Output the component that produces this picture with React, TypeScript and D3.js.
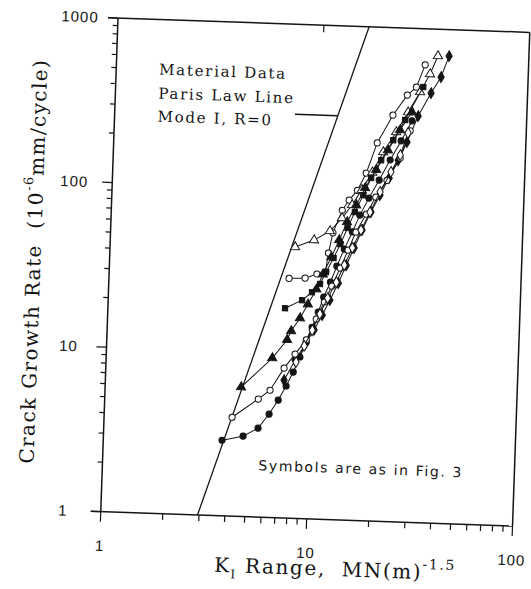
import React from 'react';
import * as d3 from 'd3';

// ---- axis definitions ----
const xDomain = [1, 100];
const yDomain = [1, 1000];
const xTickLabels = ['1', '10', '100'];
const xTickValues = [1, 10, 100];
const yTickLabels = ['1', '10', '100', '1000'];
const yTickValues = [1, 10, 100, 1000];

// ---- Paris law line: rate = (K / parisK0) ^ parisM ----
const parisK0 = 2.95;
const parisM = 4;
const parisRates = [1, 1000];
const leaderStartK = 7.5;
const leaderRate = 284;

// ---- data series (K range, crack growth rate) ----
const oc1K = [7.48, 8.95, 10.2, 11.2, 11.5, 12.0, 13.2, 14.2, 15.5, 17.0, 19.0, 22.4, 26.1, 28.8, 31.5];
const oc1R = [28.6, 28.9, 30.8, 31.8, 41.5, 55.1, 76, 87.9, 101, 129, 198, 294, 392, 440, 603];

const otK = [7.91, 9.75, 11.6, 13.2, 14.7, 16.3, 18.2, 20.4, 23.4, 26.5, 30.1, 33.4, 36.2];
const otR = [44.4, 49.4, 56.5, 68.1, 82.2, 102, 131, 175, 233, 309, 412, 532, 687];

const fsK = [7.24, 8.73, 9.72, 10.6, 11.3, 12.2, 13.1, 14.1, 15.2, 16.6, 18.0, 20.0, 22.7, 25.7, 31.1];
const fsR = [18.8, 21.2, 23.8, 26.8, 31.8, 38.8, 47.3, 59.4, 74.5, 94.8, 121, 156, 207, 277, 442];

const ftK = [4.57, 6.40, 7.50, 7.82, 8.59, 9.33, 10.2, 10.9, 11.9, 12.9, 14.0, 15.4, 16.9, 19.0, 21.5, 24.4, 27.7];
const ftR = [6.11, 9.31, 12.1, 13.7, 16.5, 20.1, 24.9, 30.8, 39.3, 50.0, 64.6, 82.2, 105, 136, 180, 240, 310];

const fcK = [3.77, 4.76, 5.61, 6.31, 6.95, 7.55, 8.13, 8.71, 9.29, 9.86, 10.5, 11.1, 11.9, 12.7, 13.7, 14.9, 16.1, 17.7, 19.7, 22.1, 24.8, 27.8];
const fcR = [2.88, 3.08, 3.47, 4.25, 5.19, 6.34, 7.73, 9.57, 11.8, 14.6, 18.1, 22.4, 27.7, 34.7, 44.2, 56.4, 71.6, 91.2, 118, 157, 206, 274];

const fdK = [7.36, 8.26, 9.18, 10.1, 11.0, 11.9, 13.0, 14.1, 15.3, 16.6, 18.2, 20.0, 22.0, 24.2, 26.5, 29.7, 34.0, 37.8, 41.0];
const fdR = [6.87, 9.14, 11.4, 14.1, 17.4, 21.5, 27.4, 35.3, 45.1, 58.2, 75.2, 95.7, 122, 157, 203, 294, 408, 513, 690];

const oc2K = [4.18, 5.56, 6.32, 7.33, 8.24, 9.29, 10.3, 11.2, 12.1, 13.2, 14.3, 15.5, 17.3, 19.1, 21.5, 24.7, 27.3];
const oc2R = [3.99, 5.21, 5.93, 8.13, 9.95, 12.2, 16.4, 20.9, 26.2, 33.8, 43.6, 56.4, 72.9, 92.9, 118, 162, 238];

const odK = [8.36, 9.10, 9.89, 10.7, 11.6, 12.7, 13.8, 15.0, 16.4, 18.0, 20.0, 22.4, 24.7, 26.7];
const odR = [8.89, 11.2, 14.0, 17.6, 22.1, 27.7, 35.3, 45.1, 58.1, 75.0, 100, 133, 169, 231];

const seriesList = [
  { K: oc1K, R: oc1R, sym: 'circle', filled: false },
  { K: otK, R: otR, sym: 'triangle', filled: false },
  { K: fsK, R: fsR, sym: 'square', filled: true },
  { K: ftK, R: ftR, sym: 'triangle', filled: true },
  { K: fcK, R: fcR, sym: 'circle', filled: true },
  { K: fdK, R: fdR, sym: 'diamond', filled: true },
  { K: oc2K, R: oc2R, sym: 'circle', filled: false },
  { K: odK, R: odR, sym: 'diamond', filled: false },
];

const INK = '#151515';

function symbolPath(sym: string) {
  if (sym === 'circle') return d3.symbol().type(d3.symbolCircle).size(30)();
  if (sym === 'triangle' || sym === 'triangleDown') return d3.symbol().type(d3.symbolTriangle).size(36)();
  if (sym === 'square') return d3.symbol().type(d3.symbolSquare).size(28)();
  return d3.symbol().type(d3.symbolDiamond).size(34)();
}

export default function App() {
  const W = 412;
  const H = 494;
  const x = d3.scaleLog().domain(xDomain).range([0, W]);
  const y = d3.scaleLog().domain(yDomain).range([H, 0]);
  const line = d3.line<[number, number]>().x(d => x(d[0])).y(d => y(d[1]));
  const isMajor = (v: number) => Math.abs(Math.log10(v) - Math.round(Math.log10(v))) < 1e-9;
  const xt = x.ticks();
  const yt = y.ticks();

  const parisPts: [number, number][] = parisRates.map(r => [parisK0 * Math.pow(r, 1 / parisM), r]);
  const leaderEndK = parisK0 * Math.pow(leaderRate, 1 / parisM);

  const serif = "'DejaVu Serif', serif";
  const sans = "'Liberation Sans', Arial, sans-serif";

  return (
    <svg width={531} height={589} style={{ position: 'absolute', left: 0, top: 0, background: '#fff' }}>
      <rect x={0} y={0} width={531} height={589} fill="#fff" />
      <g transform="translate(118,18) rotate(2)">
        {/* frame */}
        <g stroke={INK} strokeWidth={1.5} fill="none">
          <line x1={-10} y1={0} x2={W} y2={0} />
          <line x1={0} y1={0} x2={0} y2={H} />
          <line x1={-10} y1={H} x2={W} y2={H} />
          <line x1={W} y1={0} x2={W} y2={H} />
        </g>
        {/* ticks */}
        <g stroke={INK} strokeWidth={1.2}>
          {yt.map((v, i) => (
            <line key={'yt' + i} x1={isMajor(v) ? -10 : -5} x2={0} y1={y(v)} y2={y(v)} />
          ))}
          {xt.map((v, i) => (
            <line key={'xt' + i} x1={x(v)} x2={x(v)} y1={H} y2={H + (isMajor(v) ? 10 : 6)} />
          ))}
          <line x1={x(10)} x2={x(10)} y1={0} y2={7} />
        </g>
        {/* tick labels */}
        <g fontFamily={sans} fontSize={15} fill={INK} letterSpacing={1}>
          {yTickValues.map((v, i) => (
            <text key={'yl' + i} x={-38} y={y(v)} dy="0.35em" textAnchor="middle">{yTickLabels[i]}</text>
          ))}
          {xTickValues.map((v, i) => (
            <text key={'xl' + i} x={x(v)} y={H + 34} dy="0.35em" textAnchor="middle">{xTickLabels[i]}</text>
          ))}
        </g>
        {/* Paris law line */}
        <path d={line(parisPts) || ''} stroke={INK} strokeWidth={1.3} fill="none" />
        <line x1={x(leaderStartK)} y1={y(leaderRate)} x2={x(leaderEndK)} y2={y(leaderRate)} stroke={INK} strokeWidth={1.3} />
        {/* annotation */}
        <g fontFamily={serif} fontSize={15} fill={INK} letterSpacing={1.7}>
          <text x={43} y={55}>Material Data</text>
          <text x={43} y={79}>Paris Law Line</text>
          <text x={43} y={102}>Mode I, R=0</text>
        </g>
        <text x={156} y={447} fontFamily="'DejaVu Sans', sans-serif" fontSize={14} letterSpacing={1.6} fill={INK}>Symbols are as in Fig. 3</text>
        {/* data series */}
        {seriesList.map((s, si) => {
          const pts: [number, number][] = s.K.map((k, i) => [k, s.R[i]]);
          return (
            <g key={'s' + si}>
              <path d={line(pts) || ''} stroke={INK} strokeWidth={1} fill="none" />
              {pts.map((p, i) => (
                <path
                  key={i}
                  d={symbolPath(s.sym) || ''}
                  transform={`translate(${x(p[0])},${y(p[1])})${s.sym === 'triangleDown' ? ' rotate(180)' : ''}`}
                  fill={s.filled ? INK : '#fff'}
                  stroke={INK}
                  strokeWidth={1}
                />
              ))}
            </g>
          );
        })}
        {/* axis titles */}
        <text
          transform={`translate(-69,246) rotate(-90)`}
          textAnchor="middle"
          fontFamily={serif}
          fontSize={20}
          letterSpacing={1.4}
          fill={INK}
        >
          {'Crack Growth Rate\u00a0\u00a0(10'}
          <tspan dy={-10} fontSize={13}>-6</tspan>
          <tspan dy={10}>mm/cycle)</tspan>
        </text>
        <text x={236} y={H + 56} textAnchor="middle" fontFamily={serif} fontSize={20} letterSpacing={1.6} fill={INK}>
          K
          <tspan dy={6} fontSize={12}>I</tspan>
          <tspan dy={-6}>{'\u00a0Range,\u00a0\u00a0MN(m)'}</tspan>
          <tspan dy={-10} fontSize={14}>-1.5</tspan>
        </text>
      </g>
    </svg>
  );
}
